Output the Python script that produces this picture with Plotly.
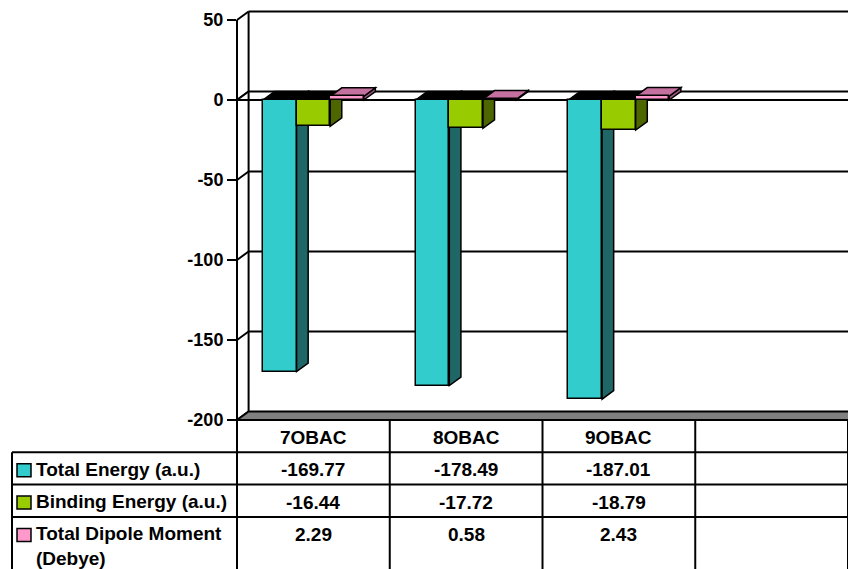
import plotly.graph_objects as go

# ---- data -------------------------------------------------------------
categories = ["7OBAC", "8OBAC", "9OBAC", ""]
series_names = ["Total Energy (a.u.)", "Binding Energy (a.u.)",
                "Total Dipole Moment<br>(Debye)"]
total_energy = [-169.77, -178.49, -187.01]
binding_energy = [-16.44, -17.72, -18.79]
dipole_moment = [2.29, 0.58, 2.43]
series_values = [total_energy, binding_energy, dipole_moment]
y_ticks = [-200, -150, -100, -50, 0, 50]

# ---- styling ----------------------------------------------------------
front_colors = ["#33CCCC", "#99CC00", "#FF99CC"]
side_colors = ["#1F6666", "#4D6600", "#9A5580"]
top_pos_colors = ["#2AA3A3", "#7AA300", "#C5719F"]
FONT = "Liberation Sans, Arial, sans-serif"

W, H = 848, 569
M_L, M_R, M_T, M_B = 237, 0, 12, 149
XR = [-0.5, 3.5]
YR = [-200, 55]
PLOT_W = W - M_L - M_R
PLOT_H = H - M_T - M_B
PX_X = PLOT_W / (XR[1] - XR[0])     # pixels per category unit
PX_Y = PLOT_H / (YR[1] - YR[0])     # pixels per value unit

# depth of the 3-D projection, expressed in axis units
DX = 11.6 / PX_X
DY = 8.5 / PX_Y
BW = 0.22                          # bar width (category units)
OFFSETS = [-BW, 0.0, BW]
X_FAR = XR[1] + 0.3                # walls run off the right edge
X0 = XR[0]


def px(x):
    return (x - XR[0]) / (XR[1] - XR[0])


def py(y):
    return (y - YR[0]) / (YR[1] - YR[0])


def pix_x(p):
    return (p - M_L) / PLOT_W


def pix_y(p):
    return (H - M_B - p) / PLOT_H


def path(pts):
    return "M " + " L ".join(f"{a},{b}" for a, b in pts) + " Z"


shapes = []


def pline(x0, y0, x1, y1, width=2):
    shapes.append(dict(type="line", xref="paper", yref="paper",
                       x0=px(x0), y0=py(y0), x1=px(x1), y1=py(y1),
                       line=dict(color="black", width=width), layer="below"))


# back wall gridlines and side wall diagonals
for v in y_ticks:
    if v != YR[0] and v != 0:
        pline(X0 + DX, v + DY, X_FAR, v + DY)
    pline(X0, v, X0 + DX, v + DY)

# zero plane (category axis at 0)
shapes.append(dict(type="path", xref="paper", yref="paper", layer="below",
                   path=path([(px(X0), py(0)), (px(X_FAR), py(0)),
                              (px(X_FAR), py(DY)), (px(X0 + DX), py(DY))]),
                   fillcolor="white", line=dict(color="black", width=2)))

# floor
fy = YR[0]
shapes.append(dict(type="path", xref="paper", yref="paper", layer="below",
                   path=path([(px(X0), py(fy)), (px(X_FAR), py(fy)),
                              (px(X_FAR), py(fy + DY)), (px(X0 + DX), py(fy + DY))]),
                   fillcolor="#808080", line=dict(color="black", width=2)))

# front axis line and back wall edge
pline(X0, y_ticks[0], X0, y_ticks[-1])
pline(X0 + DX, y_ticks[0] + DY, X0 + DX, y_ticks[-1] + DY)

# side and top faces of the bars
for s, vals in enumerate(series_values):
    for i, v in enumerate(vals):
        xl = i + OFFSETS[s] - BW / 2
        xr = xl + BW
        side = [(xr, 0), (xr + DX, DY), (xr + DX, v + DY), (xr, v)]
        shapes.append(dict(type="path", xref="x", yref="y", layer="below",
                           path=path(side), fillcolor=side_colors[s],
                           line=dict(color="black", width=1.5)))
        top_y = max(v, 0)
        top = [(xl, top_y), (xr, top_y), (xr + DX, top_y + DY), (xl + DX, top_y + DY)]
        shapes.append(dict(type="path", xref="x", yref="y", layer="below",
                           path=path(top),
                           fillcolor=top_pos_colors[s] if v > 0 else "black",
                           line=dict(color="black", width=1.5)))

fig = go.Figure()
for s, vals in enumerate(series_values):
    fig.add_trace(go.Bar(
        x=[i + OFFSETS[s] for i in range(len(vals))], y=vals, base=0,
        width=BW, marker=dict(color=front_colors[s],
                              line=dict(color="black", width=1.5)),
        name=series_names[s].replace("<br>", " "), showlegend=False,
        hoverinfo="skip"))

# ---- data table under the chart -------------------------------------
ROW_H = 32.3
TOP = H - M_B                          # pixel row of the floor front edge
row_tops = [TOP + k * ROW_H for k in range(4)]
LABEL_LEFT = 12
col_edges = [X0 + k for k in range(len(categories) + 1)]
annotations = []


def tline(x0, y0, x1, y1):
    shapes.append(dict(type="line", xref="paper", yref="paper",
                       x0=x0, y0=y0, x1=x1, y1=y1,
                       line=dict(color="black", width=2), layer="above"))


for xe in col_edges:
    tline(px(xe), pix_y(TOP), px(xe), pix_y(H + 10))
for rt in row_tops[1:]:
    tline(pix_x(LABEL_LEFT), pix_y(rt), px(X_FAR), pix_y(rt))
tline(pix_x(LABEL_LEFT), pix_y(row_tops[1]), pix_x(LABEL_LEFT), pix_y(H + 10))

TXT = dict(family=FONT, size=19, color="black", weight="bold")
TEXT_DY = 17.5

for i, c in enumerate(categories):
    annotations.append(dict(xref="paper", yref="paper", x=px(i),
                            y=pix_y(row_tops[0] + TEXT_DY), text=c,
                            showarrow=False, xanchor="center", yanchor="middle",
                            font=TXT))

for s, vals in enumerate(series_values):
    rt = row_tops[s + 1]
    for i, v in enumerate(vals):
        annotations.append(dict(xref="paper", yref="paper", x=px(i),
                                y=pix_y(rt + TEXT_DY), text=f"{v:.2f}",
                                showarrow=False, xanchor="center",
                                yanchor="middle", font=TXT))
    # legend key
    cy = rt + TEXT_DY + 0.5
    shapes.append(dict(type="rect", xref="paper", yref="paper", layer="above",
                       x0=pix_x(17), x1=pix_x(31), y0=pix_y(cy - 6.5),
                       y1=pix_y(cy + 6.5), fillcolor=front_colors[s],
                       line=dict(color="black", width=1.5)))
    annotations.append(dict(xref="paper", yref="paper", x=pix_x(34),
                            y=pix_y(rt + TEXT_DY - 13), text=series_names[s],
                            showarrow=False, xanchor="left", yanchor="top",
                            align="left", font=TXT))

fig.update_layout(
    width=W, height=H, autosize=False,
    margin=dict(l=M_L, r=M_R, t=M_T, b=M_B, pad=0),
    paper_bgcolor="white", plot_bgcolor="rgba(0,0,0,0)",
    barmode="overlay", bargap=0,
    xaxis=dict(range=XR, visible=False, fixedrange=True),
    yaxis=dict(range=YR, tickvals=y_ticks, ticktext=[str(v) for v in y_ticks],
               ticks="outside", ticklen=9, tickwidth=2, tickcolor="black",
               showgrid=False, zeroline=False, showline=False,
               tickfont=dict(family=FONT, size=18, color="black", weight="bold"),
               fixedrange=True),
    shapes=shapes, annotations=annotations,
)

fig.write_html("out.html")
